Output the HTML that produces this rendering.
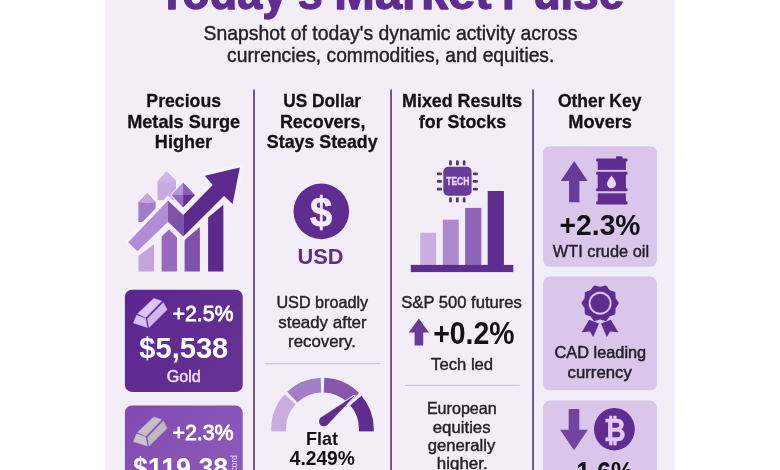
<!DOCTYPE html>
<html lang="en">
<head>
<meta charset="utf-8">
<title>Today's Market Pulse</title>
<style>
html,body{margin:0;padding:0;background:#ffffff;}
body{width:780px;height:470px;overflow:hidden;position:relative;}
svg{display:block;position:absolute;left:0;top:-10px;font-family:"Liberation Sans",sans-serif;filter:blur(0.4px);}
</style>
</head>
<body>
<svg width="780" height="490" viewBox="0 -10 780 490">
<rect x="105.4" y="-10" width="569.3" height="490" fill="#f2edf7"/>
<text font-size="48.69" font-weight="700" fill="#5e2d8f" stroke="#5e2d8f" stroke-width="1.30" stroke-linejoin="round"><tspan x="158.16" y="9.20" textLength="164.70" lengthAdjust="spacingAndGlyphs">Today's</tspan> <tspan x="334.39" y="9.20" textLength="157.16" lengthAdjust="spacingAndGlyphs">Market</tspan> <tspan x="502.09" y="9.20" textLength="122.23" lengthAdjust="spacingAndGlyphs">Pulse</tspan></text>
<text font-size="20.06" font-weight="400" fill="#242029" stroke="#242029" stroke-width="0.40" stroke-linejoin="round"><tspan x="203.62" y="40.10" textLength="373.88" lengthAdjust="spacingAndGlyphs">Snapshot of today's dynamic activity across</tspan> <tspan x="227.08" y="61.90" textLength="327.27" lengthAdjust="spacingAndGlyphs">currencies, commodities, and equities.</tspan></text>
<rect x="253.10" y="89.6" width="1.8" height="381" fill="#634a7d"/>
<rect x="390.15" y="89.6" width="1.8" height="381" fill="#634a7d"/>
<rect x="532.15" y="89.6" width="1.8" height="381" fill="#634a7d"/>
<text font-size="18.60" font-weight="700" fill="#131116" stroke="#131116" stroke-width="0.30" stroke-linejoin="round"><tspan x="146.37" y="107.30" textLength="74.71" lengthAdjust="spacingAndGlyphs">Precious</tspan> <tspan x="127.14" y="127.80" textLength="113.04" lengthAdjust="spacingAndGlyphs">Metals Surge</tspan> <tspan x="154.84" y="148.30" textLength="57.28" lengthAdjust="spacingAndGlyphs">Higher</tspan></text>
<text font-size="18.60" font-weight="700" fill="#131116" stroke="#131116" stroke-width="0.30" stroke-linejoin="round"><tspan x="283.21" y="107.30" textLength="77.90" lengthAdjust="spacingAndGlyphs">US Dollar</tspan> <tspan x="279.95" y="127.80" textLength="85.49" lengthAdjust="spacingAndGlyphs">Recovers,</tspan> <tspan x="266.84" y="148.30" textLength="110.81" lengthAdjust="spacingAndGlyphs">Stays Steady</tspan></text>
<text font-size="18.60" font-weight="700" fill="#131116" stroke="#131116" stroke-width="0.30" stroke-linejoin="round"><tspan x="402.06" y="107.30" textLength="120.03" lengthAdjust="spacingAndGlyphs">Mixed Results</tspan> <tspan x="418.84" y="127.80" textLength="87.34" lengthAdjust="spacingAndGlyphs">for Stocks</tspan></text>
<text font-size="18.60" font-weight="700" fill="#131116" stroke="#131116" stroke-width="0.30" stroke-linejoin="round"><tspan x="557.93" y="107.30" textLength="83.51" lengthAdjust="spacingAndGlyphs">Other Key</tspan> <tspan x="568.23" y="127.60" textLength="63.77" lengthAdjust="spacingAndGlyphs">Movers</tspan></text>
<polygon points="138.4,202.2 147.3,193.3 155.6,202.2 155.6,222.0 138.4,222.0" fill="#a37cc9"/>
<polygon points="138.4,202.2 147.3,193.3 155.6,202.2 147.3,203.2" fill="#c3a5e0"/>
<polygon points="157.5,181.4 166.6,171.4 176.0,180.5 176.0,200.0 157.5,200.0" fill="#c6abe1"/>
<polygon points="157.5,181.4 166.6,171.4 176.0,180.5 166.6,183.0" fill="#cdb5e6"/>
<polygon points="183.1,182.4 195.0,195.0 183.1,207.6 171.3,195.0" fill="#a27cc8" stroke="#f6f1fb" stroke-width="1.6" stroke-linejoin="round"/>
<polygon points="183.1,182.4 183.1,195.0 171.3,195.0" fill="#b593d8"/>
<polygon points="183.1,182.4 195.0,195.0 183.1,195.0" fill="#8a5cb6"/>
<polygon points="183.1,195.0 195.0,195.0 183.1,207.6" fill="#63309a"/>
<polygon points="171.3,195.0 183.1,195.0 183.1,207.6" fill="#9568c0"/>
<polygon points="138.6,255.8 154.0,244.3 154.0,271.6 138.6,271.6" fill="#c4a3e1"/>
<polygon points="161.6,236.6 169.0,229.5 177.0,237.4 177.0,271.6 161.6,271.6" fill="#9669be"/>
<polygon points="184.6,239.7 199.9,226.9 199.9,271.6 184.6,271.6" fill="#8051aa"/>
<polygon points="208.1,217.5 223.4,204.7 223.4,271.6 208.1,271.6" fill="#5c2a8d"/>
<polygon points="128.2,242.2 168.0,200.4 183.3,214.9 212.7,185.0 204.8,175.8 239.8,167.4 232.6,203.9 224.0,196.0 183.3,236.6 168.0,221.8 137.4,251.2" fill="#f6f1fb" stroke="#f6f1fb" stroke-width="7" stroke-linejoin="miter"/>
<polygon points="128.2,242.2 168.0,200.4 168.0,221.8 137.4,251.2" fill="#b28dd5"/>
<polygon points="168.0,200.4 183.3,214.9 183.3,236.6 168.0,221.8" fill="#7f52aa"/>
<polygon points="183.3,214.9 212.7,185.0 204.8,175.8 239.8,167.4 232.6,203.9 224.0,196.0 183.3,236.6" fill="#5c2a8d"/>
<defs><linearGradient id="gc" x1="0" y1="0" x2="1" y2="0.6"><stop offset="0" stop-color="#5b2590"/><stop offset="1" stop-color="#653193"/></linearGradient><linearGradient id="sc" x1="0" y1="0" x2="1" y2="0.6"><stop offset="0" stop-color="#8049b1"/><stop offset="1" stop-color="#8c59b9"/></linearGradient></defs>
<rect x="124.9" y="289.7" width="117.8" height="102.2" rx="7" fill="url(#gc)"/>
<g id="ingot1"><polygon points="137.6,313.7 153.7,298.4 161.7,301.0 145.8,317.6" fill="#dcc6f0" stroke="#dcc6f0" stroke-width="0.5" stroke-linejoin="round"/><polygon points="136.6,315.2 145.5,318.5 147.3,327.4 133.5,323.0" fill="#d8c0ee" stroke="#d8c0ee" stroke-width="0.5" stroke-linejoin="round"/><polygon points="147.5,318.7 163.3,302.4 167.1,309.6 149.1,327.4" fill="#d2b8ea" stroke="#d2b8ea" stroke-width="0.5" stroke-linejoin="round"/></g>
<text x="172.41" y="320.50" font-size="22.38" font-weight="400" fill="#ffffff" textLength="61.21" lengthAdjust="spacingAndGlyphs" stroke="#ffffff" stroke-width="0.90" stroke-linejoin="round">+2.5%</text>
<text x="139.32" y="358.30" font-size="29.51" font-weight="700" fill="#ffffff" textLength="88.98" lengthAdjust="spacingAndGlyphs">$5,538</text>
<text x="166.64" y="381.60" font-size="16.57" font-weight="400" fill="#f1e0fa" textLength="34.16" lengthAdjust="spacingAndGlyphs" stroke="#f1e0fa" stroke-width="0.50" stroke-linejoin="round">Gold</text>
<rect x="124.9" y="405.6" width="117.8" height="80" rx="7" fill="url(#sc)"/>
<g id="ingot2"><polygon points="137.6,432.3 153.7,417.0 161.7,419.6 145.8,436.2" fill="#c4c0c6" stroke="#c4c0c6" stroke-width="0.5" stroke-linejoin="round"/><polygon points="136.6,433.8 145.5,437.1 147.3,446.0 133.5,441.6" fill="#c9c5cc" stroke="#c9c5cc" stroke-width="0.5" stroke-linejoin="round"/><polygon points="147.5,437.3 163.3,421.0 167.1,428.2 149.1,446.0" fill="#bdb9c0" stroke="#bdb9c0" stroke-width="0.5" stroke-linejoin="round"/></g>
<text x="172.41" y="439.80" font-size="22.67" font-weight="400" fill="#ffffff" textLength="61.21" lengthAdjust="spacingAndGlyphs" stroke="#ffffff" stroke-width="0.90" stroke-linejoin="round">+2.3%</text>
<text x="132.95" y="478.10" font-size="29.51" font-weight="700" fill="#ffffff" textLength="95.26" lengthAdjust="spacingAndGlyphs">$119.38</text>
<text transform="translate(237.1,455.2) rotate(-90)" font-size="8.3" fill="#f0e2fa" text-anchor="end">record</text>
<circle cx="321.3" cy="211.4" r="27.8" fill="#5e2d8f"/>
<text x="321.1" y="227" font-size="42.5" font-weight="700" fill="#f4ecfb" stroke="#f4ecfb" stroke-width="0.6" text-anchor="middle" textLength="22.2" lengthAdjust="spacingAndGlyphs">$</text>
<text x="297.49" y="264.00" font-size="22.67" font-weight="700" fill="#5e2d8f" textLength="46.02" lengthAdjust="spacingAndGlyphs">USD</text>
<text font-size="16.28" font-weight="400" fill="#242029" stroke="#242029" stroke-width="0.40" stroke-linejoin="round"><tspan x="276.45" y="308.40" textLength="91.68" lengthAdjust="spacingAndGlyphs">USD broadly</tspan> <tspan x="278.23" y="327.90" textLength="88.45" lengthAdjust="spacingAndGlyphs">steady after</tspan> <tspan x="288.11" y="347.40" textLength="67.80" lengthAdjust="spacingAndGlyphs">recovery.</tspan></text>
<rect x="264.9" y="363" width="114.8" height="1.2" fill="#cfc0df"/>
<path d="M271.20 429.00 A51.30 51.30 0 0 1 284.68 394.34 L295.59 404.34 A36.50 36.50 0 0 0 286.00 429.00 Z" fill="#c8aee0"/>
<rect x="271.20" y="428.80" width="14.80" height="2.6" fill="#c8aee0"/>
<path d="M287.19 391.79 A51.30 51.30 0 0 1 320.71 377.73 L321.23 392.52 A36.50 36.50 0 0 0 297.38 402.52 Z" fill="#a27fc6"/>
<path d="M324.29 377.73 A51.30 51.30 0 0 1 359.09 393.04 L348.53 403.42 A36.50 36.50 0 0 0 323.77 392.52 Z" fill="#8558ae"/>
<path d="M361.51 395.68 A51.30 51.30 0 0 1 373.80 429.00 L359.00 429.00 A36.50 36.50 0 0 0 350.25 405.30 Z" fill="#5e2d8f"/>
<rect x="359.00" y="428.80" width="14.80" height="2.6" fill="#5e2d8f"/>
<polygon points="320.6,418.0 354.2,396.0 327.2,424.8" fill="#5e2d8f" stroke="#f2edf7" stroke-width="2.4" stroke-linejoin="round"/>
<polygon points="320.6,418.0 354.2,396.0 327.2,424.8" fill="#5e2d8f" stroke="#5e2d8f" stroke-width="0.6" stroke-linejoin="round"/>
<circle cx="323.8" cy="421.5" r="4.8" fill="#5e2d8f"/>
<text x="305.99" y="444.90" font-size="18.90" font-weight="700" fill="#131116" textLength="32.02" lengthAdjust="spacingAndGlyphs">Flat</text>
<text x="289.71" y="465.00" font-size="20.06" font-weight="700" fill="#131116" textLength="65.20" lengthAdjust="spacingAndGlyphs">4.249%</text>
<rect x="420.3" y="232.8" width="15.8" height="33" fill="#c8aee0"/>
<rect x="442.8" y="219.7" width="15.9" height="46" fill="#aa89cd"/>
<rect x="465.1" y="207.9" width="16.2" height="58" fill="#8e64b6"/>
<rect x="487.7" y="191" width="16.2" height="75" fill="#5e2d8f"/>
<rect x="410.8" y="264.9" width="102.5" height="7.2" fill="#5e2d8f"/>
<rect x="443.3" y="166.7" width="28.3" height="29" rx="5" fill="#6a3a9b"/>
<rect x="449.1" y="160.2" width="2.7" height="5.2" rx="1.2" fill="#523573"/>
<rect x="449.1" y="197.3" width="2.7" height="5.2" rx="1.2" fill="#523573"/>
<rect x="456.0" y="160.2" width="2.7" height="5.2" rx="1.2" fill="#523573"/>
<rect x="456.0" y="197.3" width="2.7" height="5.2" rx="1.2" fill="#523573"/>
<rect x="462.8" y="160.2" width="2.7" height="5.2" rx="1.2" fill="#523573"/>
<rect x="462.8" y="197.3" width="2.7" height="5.2" rx="1.2" fill="#523573"/>
<rect x="436.8" y="172.5" width="5.2" height="2.7" rx="1.2" fill="#523573"/>
<rect x="472.8" y="172.5" width="5.2" height="2.7" rx="1.2" fill="#523573"/>
<rect x="436.8" y="180.0" width="5.2" height="2.7" rx="1.2" fill="#523573"/>
<rect x="472.8" y="180.0" width="5.2" height="2.7" rx="1.2" fill="#523573"/>
<rect x="436.8" y="187.7" width="5.2" height="2.7" rx="1.2" fill="#523573"/>
<rect x="472.8" y="187.7" width="5.2" height="2.7" rx="1.2" fill="#523573"/>
<text x="446.25" y="185.40" font-size="11.19" font-weight="700" fill="#ead6f6" textLength="23.17" lengthAdjust="spacingAndGlyphs" stroke="#ead6f6" stroke-width="0.30" stroke-linejoin="round">TECH</text>
<text x="401.25" y="308.40" font-size="16.28" font-weight="400" fill="#242029" textLength="120.65" lengthAdjust="spacingAndGlyphs" stroke="#242029" stroke-width="0.40" stroke-linejoin="round">S&amp;P 500 futures</text>
<polygon points="418.9,318.4 429.0,332.4 423.2,332.4 423.2,345.4 414.6,345.4 414.6,332.4 408.7,332.4" fill="#6a3a9b"/>
<text x="433.21" y="343.50" font-size="31.98" font-weight="700" fill="#131116" textLength="81.34" lengthAdjust="spacingAndGlyphs">+0.2%</text>
<text x="431.14" y="369.50" font-size="16.28" font-weight="400" fill="#242029" textLength="62.01" lengthAdjust="spacingAndGlyphs" stroke="#242029" stroke-width="0.40" stroke-linejoin="round">Tech led</text>
<rect x="404.9" y="384.8" width="114.8" height="1.2" fill="#cfc0df"/>
<text font-size="16.28" font-weight="400" fill="#242029" stroke="#242029" stroke-width="0.40" stroke-linejoin="round"><tspan x="426.88" y="413.70" textLength="69.87" lengthAdjust="spacingAndGlyphs">European</tspan> <tspan x="432.79" y="432.60" textLength="57.82" lengthAdjust="spacingAndGlyphs">equities</tspan> <tspan x="427.70" y="451.30" textLength="67.53" lengthAdjust="spacingAndGlyphs">generally</tspan> <tspan x="436.85" y="469.20" textLength="50.87" lengthAdjust="spacingAndGlyphs">higher.</tspan></text>
<rect x="543.1" y="146.2" width="113.8" height="120.5" rx="7" fill="#d9c6ea"/>
<rect x="543.1" y="276.4" width="113.8" height="113.9" rx="7" fill="#d9c6ea"/>
<rect x="543.1" y="400.5" width="113.8" height="90" rx="7" fill="#d9c6ea"/>
<polygon points="574.2,161.0 587.6,181.0 579.4,181.0 579.4,202.2 569.0,202.2 569.0,181.0 560.7,181.0" fill="#6a3a9b"/>
<g fill="#5e2d8f"><rect x="616" y="156.2" width="6.4" height="3.5" rx="1"/><rect x="596.1" y="158.5" width="31.5" height="3" rx="1.3"/><rect x="597.7" y="160" width="28.2" height="9.9"/><rect x="596.1" y="171.8" width="31.5" height="3" rx="1.3"/><rect x="597.7" y="173" width="28.2" height="17"/><rect x="596.1" y="188.3" width="31.5" height="3" rx="1.3"/><rect x="597.7" y="193.3" width="28.2" height="9"/><rect x="596.1" y="201.3" width="31.5" height="3.3" rx="1.3"/></g>
<path d="M611.5 175.6 C613.6 178.8 616 181.2 616 183.8 A4.5 4.4 0 0 1 607 183.8 C607 181.2 609.4 178.8 611.5 175.6 Z" fill="#e6d6f3"/>
<text x="559.61" y="234.80" font-size="30.23" font-weight="700" fill="#131116" textLength="80.83" lengthAdjust="spacingAndGlyphs">+2.3%</text>
<text x="552.73" y="257.20" font-size="16.28" font-weight="400" fill="#242029" textLength="96.37" lengthAdjust="spacingAndGlyphs" stroke="#242029" stroke-width="0.40" stroke-linejoin="round">WTI crude oil</text>
<polygon points="605.4,286.9 608.7,291.3 613.9,293.1 614.1,298.7 617.2,303.2 614.1,307.7 613.9,313.3 608.7,315.1 605.4,319.5 600.1,317.9 594.8,319.5 591.5,315.1 586.3,313.3 586.1,307.7 583.0,303.2 586.1,298.7 586.3,293.1 591.5,291.3 594.8,286.9 600.1,288.5" fill="#5e2d8f" stroke="#5e2d8f" stroke-width="3" stroke-linejoin="round"/>
<circle cx="600.1" cy="303.2" r="10.5" fill="none" stroke="#ddc0ef" stroke-width="1.9"/>
<polygon points="589.2,319.8 599.0,323.6 593.2,337.2 590.0,331.6 581.7,332.3" fill="#5e2d8f"/>
<polygon points="610.8,319.8 601.0,323.6 606.8,337.2 610.0,331.6 618.3,332.3" fill="#5e2d8f"/>
<text font-size="16.72" font-weight="400" fill="#242029" stroke="#242029" stroke-width="0.50" stroke-linejoin="round"><tspan x="554.52" y="357.70" textLength="91.68" lengthAdjust="spacingAndGlyphs">CAD leading</tspan> <tspan x="567.54" y="377.90" textLength="64.24" lengthAdjust="spacingAndGlyphs">currency</tspan></text>
<polygon points="574.0,450.2 587.9,429.7 579.3,429.7 579.3,409.1 568.7,409.1 568.7,429.7 560.1,429.7" fill="#74429f"/>
<ellipse cx="614.4" cy="429.2" rx="20.4" ry="21.2" fill="#5e2d8f"/>
<text x="614.7" y="440.6" font-size="31.5" font-weight="700" fill="#e2c8f2" stroke="#e2c8f2" stroke-width="0.5" text-anchor="middle" textLength="21.6" lengthAdjust="spacingAndGlyphs">₿</text>
<text x="567.82" y="482.10" font-size="30.23" font-weight="700" fill="#131116" textLength="65.54" lengthAdjust="spacingAndGlyphs">-1.6%</text>
</svg>
</body>
</html>
